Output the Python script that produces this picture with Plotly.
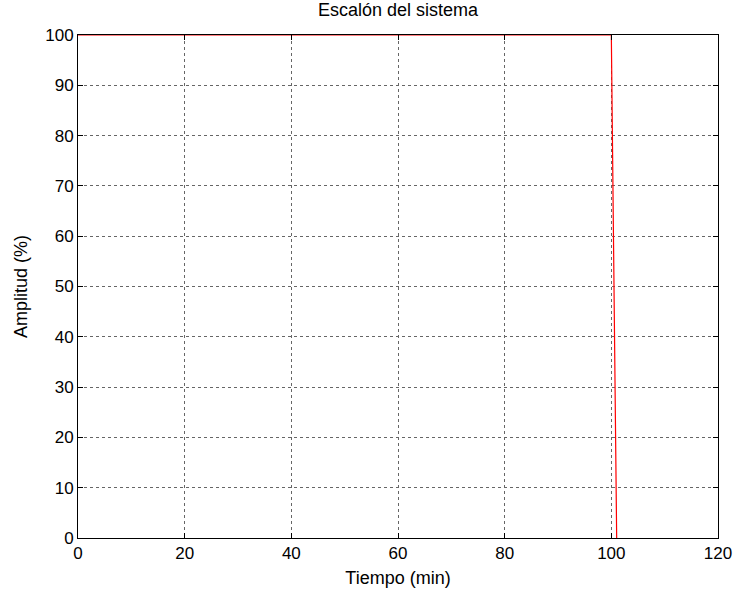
import plotly.graph_objects as go

# Data
tiempo = [0, 100, 101]
amplitud = [100, 100, 0]
x_ticks = [0, 20, 40, 60, 80, 100, 120]
y_ticks = [0, 10, 20, 30, 40, 50, 60, 70, 80, 90, 100]

FONT = "Liberation Sans, Arial"

fig = go.Figure()
fig.add_trace(go.Scatter(x=tiempo, y=amplitud, mode="lines",
                         line=dict(color="#ff0000", width=1.2), showlegend=False))

axis_common = dict(
    showline=True, linecolor="black", linewidth=1, mirror="ticks",
    ticks="inside", ticklen=5, tickcolor="black", tickwidth=1,
    showgrid=True, gridcolor="#666666", griddash="dot", gridwidth=1,
    zeroline=False, automargin=False,
    tickfont=dict(family=FONT, size=17, color="black"),
)

fig.update_layout(
    width=735, height=597,
    margin=dict(l=78, r=17, t=35, b=59),
    paper_bgcolor="white", plot_bgcolor="white",
    title=dict(text="Escalón del sistema", x=0.5, xanchor="center", xref="paper",
               y=1, yref="container", yanchor="top", pad=dict(t=3),
               font=dict(family=FONT, size=18, color="black")),
    xaxis=dict(range=[0, 120], tickvals=x_ticks,
               title=dict(text="Tiempo (min)", standoff=8,
                          font=dict(family=FONT, size=18, color="black")),
               **axis_common),
    yaxis=dict(range=[0, 100], tickvals=y_ticks,
               title=dict(text="Amplitud (%)", standoff=12,
                          font=dict(family=FONT, size=18, color="black")),
               **axis_common),
)

fig.write_html("out.html")
